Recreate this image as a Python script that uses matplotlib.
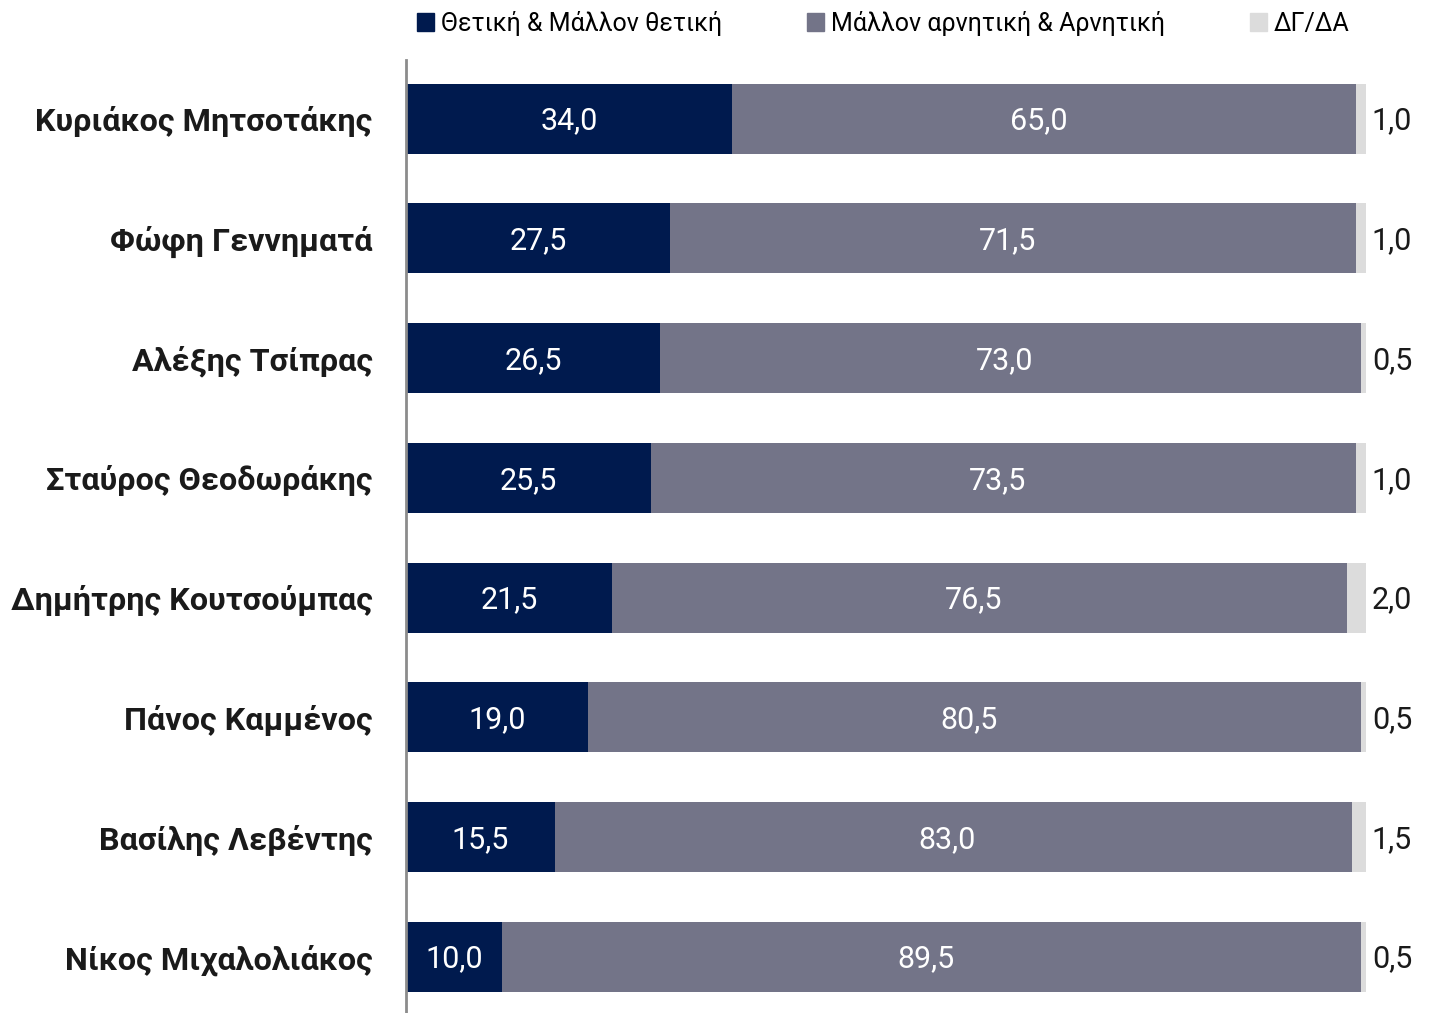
import matplotlib
matplotlib.use("Agg")
import matplotlib.pyplot as plt
from matplotlib.patches import Patch

plt.rcParams["font.family"] = ["Roboto", "DejaVu Sans"]

names = ["Κυριάκος Μητσοτάκης", "Φώφη Γεννηματά", "Αλέξης Τσίπρας",
         "Σταύρος Θεοδωράκης", "Δημήτρης Κουτσούμπας", "Πάνος Καμμένος",
         "Βασίλης Λεβέντης", "Νίκος Μιχαλολιάκος"]
positive = [34.0, 27.5, 26.5, 25.5, 21.5, 19.0, 15.5, 10.0]
negative = [65.0, 71.5, 73.0, 73.5, 76.5, 80.5, 83.0, 89.5]
dkna = [1.0, 1.0, 0.5, 1.0, 2.0, 0.5, 1.5, 0.5]
series_names = ["Θετική & Μάλλον θετική", "Μάλλον αρνητική & Αρνητική", "ΔΓ/ΔΑ"]

c_pos = "#001a4e"
c_neg = "#737488"
c_dk = "#dcdcdc"


def fmt(v):
    return f"{v:.1f}".replace(".", ",")


fig = plt.figure(figsize=(14.3, 10.13), dpi=100)
ax = fig.add_axes([406 / 1430, 0, 960 / 1430, (1013 - 60) / 1013])

y = list(range(len(names)))
h = 0.585
ax.barh(y, positive, height=h, color=c_pos)
ax.barh(y, negative, left=positive, height=h, color=c_neg)
left3 = [p + n for p, n in zip(positive, negative)]
ax.barh(y, dkna, left=left3, height=h, color=c_dk)

for i in y:
    ax.text(positive[i] / 2, i + 0.02, fmt(positive[i]), color="white",
            ha="center", va="center", fontsize=22)
    ax.text(positive[i] + negative[i] / 2 - 0.6, i + 0.02, fmt(negative[i]), color="white",
            ha="center", va="center", fontsize=22)
    ax.text(100.6, i + 0.02, fmt(dkna[i]), color="#1a1a1a",
            ha="left", va="center", fontsize=22)

ax.set_xlim(0, 100)
ax.set_ylim(7.47, -0.49)
ax.set_yticks(y)
ax.set_yticklabels(names, fontsize=23.3, fontweight="bold", color="#1a1a1a")
ax.tick_params(axis="y", length=0, pad=24)
ax.set_xticks([])
for s in ["top", "right", "bottom"]:
    ax.spines[s].set_visible(False)
ax.spines["left"].set_color("#8c8c8c")
ax.spines["left"].set_linewidth(2)

handles = [Patch(color=c) for c in (c_pos, c_neg, c_dk)]
fig.legend(handles, series_names, loc="upper left", bbox_to_anchor=(417 / 1430, 1 - 11 / 1013),
           ncol=3, frameon=False, fontsize=18, handlelength=0.7, handleheight=0.7,
           handletextpad=0.25, columnspacing=3.4, borderpad=0, borderaxespad=0)

fig.savefig("out.png", dpi=100)
